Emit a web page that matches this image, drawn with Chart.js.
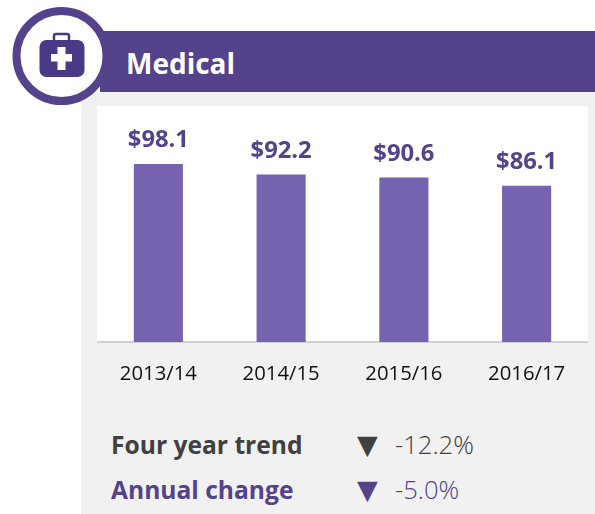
<!DOCTYPE html>
<html>
<head>
<meta charset="utf-8">
<title>Medical</title>
<script src="https://cdn.jsdelivr.net/npm/chart.js"></script>
<style>
    html, body { margin: 0; padding: 0; background: #ffffff; overflow: hidden; }
    body { width: 595px; height: 514px; position: relative; font-family: "Open Sans", sans-serif; }
    #panel { position: absolute; left: 81px; top: 92px; width: 514px; height: 422px; background: #f1f1f1; }
    #band { position: absolute; left: 100px; top: 31px; width: 495px; height: 61px; background: #54438a; }
    #title { position: absolute; left: 126px; top: 43px; font-size: 28px; line-height: 40px; font-weight: 700; color: #ffffff; }
    #plotBg { position: absolute; left: 97px; top: 106px; width: 491px; height: 236px; background: #ffffff; }
    #chartBox { position: absolute; left: 97px; top: 106px; width: 491px; height: 290px; }
    #icon { position: absolute; left: 0; top: 0; }
    .row { position: absolute; left: 111px; height: 36px; line-height: 36px; font-size: 24.6px; white-space: nowrap; }
    .row b, .row i, .row span { position: absolute; top: 0; font-style: normal; }
    .row b { left: 0; font-weight: 700; }
    .row i { left: 246px; font-family: "DejaVu Sans", sans-serif; font-size: 27px; }
    .row span { left: 284px; font-weight: 300; font-size: 25.6px; }
</style>
</head>
<body>
<div id="panel"></div>
<div id="band"></div>
<svg id="icon" width="120" height="110" viewBox="0 0 120 110">
    <circle cx="61.5" cy="56" r="45" fill="#ffffff" stroke="#54438a" stroke-width="8"/>
    <path d="M54 41 V36 Q54 34 56 34 H67 Q69 34 69 36 V41" fill="none" stroke="#4a3a86" stroke-width="2.5"/>
    <rect x="39.5" y="40" width="45" height="37" rx="7" fill="#4a3a86"/>
    <rect x="51" y="54" width="21" height="7.5" fill="#ffffff"/>
    <rect x="57.5" y="47" width="8" height="23" fill="#ffffff"/>
</svg>
<div id="title">Medical</div>
<div id="plotBg"></div>
<div id="chartBox"><canvas id="chart"></canvas></div>
<div id="rows"></div>

<script>
const years = ['2013/14', '2014/15', '2015/16', '2016/17'];
const spending = [98.1, 92.2, 90.6, 86.1];
const trendNames = ['Four year trend', 'Annual change'];
const trendValues = ['-12.2%', '-5.0%'];
const trendColors = ['#404040', '#54438a'];
const trendTops = [427, 472];

// Dollar labels above each bar
const barLabels = {
    id: 'barLabels',
    afterDatasetsDraw(chart) {
        const { ctx } = chart;
        ctx.save();
        ctx.font = '700 23.8px "Open Sans", sans-serif';
        ctx.fillStyle = '#54438a';
        ctx.textAlign = 'center';
        ctx.textBaseline = 'alphabetic';
        chart.getDatasetMeta(0).data.forEach((bar, i) => {
            ctx.fillText('$' + spending[i].toFixed(1), bar.x, bar.y - 17);
        });
        ctx.restore();
    }
};

new Chart(document.getElementById('chart'), {
    type: 'bar',
    data: {
        labels: years,
        datasets: [{
            data: spending,
            backgroundColor: '#7663b0',
            categoryPercentage: 0.4,
            barPercentage: 1
        }]
    },
    options: {
        responsive: true,
        maintainAspectRatio: false,
        animation: false,
        layout: { padding: 0 },
        plugins: { legend: { display: false }, tooltip: { enabled: false } },
        scales: {
            x: {
                afterFit(axis) { axis.height = 54; },
                grid: { display: false },
                border: { display: true, color: '#d2d2d2', width: 2 },
                ticks: {
                    color: '#111111',
                    padding: 12,
                    maxRotation: 0,
                    font: { family: '"Open Sans", sans-serif', size: 20.3 }
                }
            },
            y: { display: false, min: 0, max: 130 }
        }
    },
    plugins: [barLabels]
});

// Trend rows under the chart
const rows = document.getElementById('rows');
trendNames.forEach((name, i) => {
    const row = document.createElement('div');
    row.className = 'row';
    row.style.top = trendTops[i] + 'px';
    row.style.color = trendColors[i];
    row.innerHTML = '<b>' + name + '</b><i>\u25BC</i><span>' + trendValues[i] + '</span>';
    rows.appendChild(row);
});
</script>
</body>
</html>
